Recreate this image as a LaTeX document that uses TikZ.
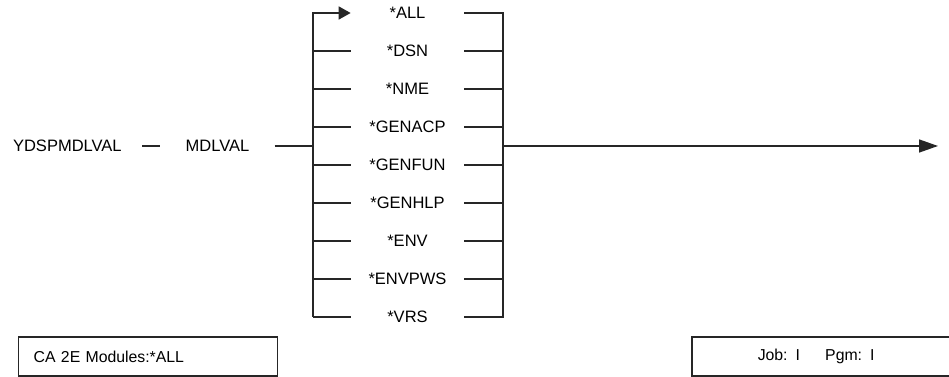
\documentclass[tikz,border=0pt]{standalone}
\usepackage{fontspec}
\setmainfont{Liberation Sans}
\usetikzlibrary{arrows.meta}

\begin{document}
\begin{tikzpicture}[x=0.02cm, y=-0.02cm,
    rail/.style={line width=0.03cm, draw=black!85},
    railtext/.style={inner ysep=0pt, font=\fontsize{9.4}{11}\selectfont},
    optbox/.style={railtext, minimum width=2.26cm, inner xsep=0pt},
    infobox/.style={draw=black!85, line width=0.03cm, minimum height=0.78cm, inner ysep=0pt, align=left, font=\fontsize{9}{10}\selectfont}]
  \useasboundingbox (0,0) rectangle (949,377);
  % command and parameter
  \node[railtext, anchor=east, inner xsep=0.4cm] (ydsp) at (142,146) {YDSPMDLVAL};
  \node[railtext, inner xsep=0.5cm] (mdlval) at (217.5,146) {MDLVAL};
  \coordinate (jL) at (313,146);
  \coordinate (jR) at (503,146);
  \coordinate (fin) at (938,146);
  % choices
  \foreach \lbl [count=\i] in {*ALL,*DSN,*NME,*GENACP,*GENFUN,*GENHLP,*ENV,*ENVPWS,*VRS}
    \node[optbox] (opt\i) at (407.5, {13+38*(\i-1)}) {\lbl};
  \draw[rail] (ydsp) -- (mdlval);
  \draw[rail] (mdlval) -- (jL);
  \draw[rail, -{Triangle[length=0.24cm, width=0.26cm]}] (opt9.west -| jL) -- (opt1.west -| jL) -- (opt1.west);
  \foreach \i in {2,...,9}
    \draw[rail] (opt\i.west -| jL) -- (opt\i.west);
  \draw[rail] (opt1.east) -- (opt1.east -| jR) -- (opt9.east -| jR) -- (opt9.east);
  \foreach \i in {2,...,8}
    \draw[rail] (opt\i.east) -- (opt\i.east -| jR);
  \draw[rail, -{Triangle[length=0.38cm, width=0.26cm]}] (jR) -- (fin);
  % footer boxes
  \node[infobox, text width=4.58cm, inner xsep=0.3cm, anchor=west] (modbox) at (18,356.5) {CA 2E Modules:*ALL};
  \node[infobox, text width=2.54cm, inner xsep=1.32cm, anchor=west] (jobbox) at (691,356.5) {Job: I\hspace{1.6em}Pgm: I};
\end{tikzpicture}
\end{document}
